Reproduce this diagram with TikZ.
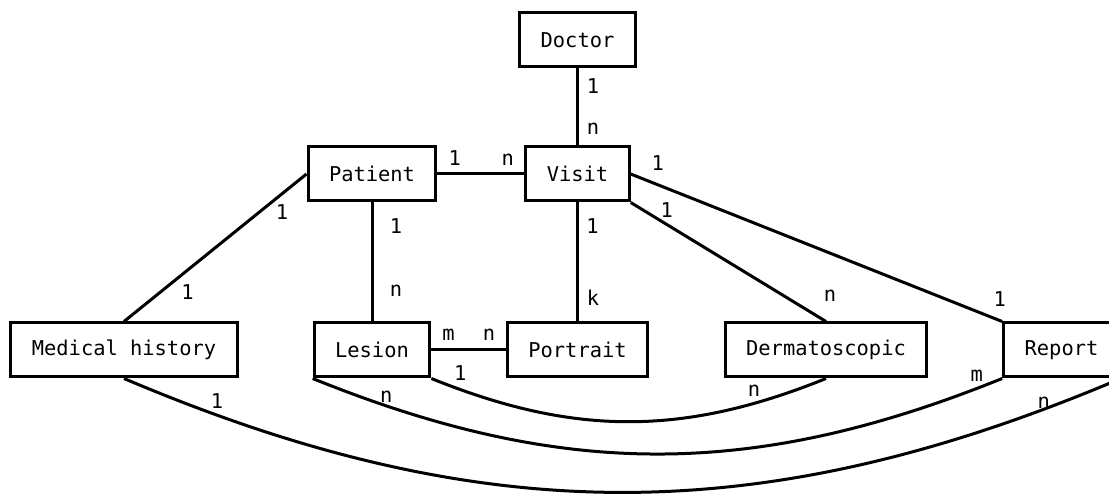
\documentclass[tikz,border=0pt]{standalone}
\usepackage{fontspec}
\newfontfamily\ermono{DejaVu Sans Mono}

\begin{document}
\begin{tikzpicture}[x=0.5pt,y=0.5pt,line width=1.5pt,
        entity/.style={draw,inner xsep=10.5pt,inner ysep=0pt,minimum height=27pt,font=\ermono\fontsize{10.2}{12}\selectfont},
        card/.style={inner sep=0pt,font=\ermono\fontsize{10.2}{12}\selectfont}]
        \useasboundingbox (0,0) rectangle (1109,-496);
        \node[entity] (doctor) at (577.5,-40) {Doctor};
        \node[entity] (patient) at (372,-174) {Patient};
        \node[entity] (visit) at (577.5,-174) {Visit};
        \node[entity] (medhist) at (124,-350) {Medical history};
        \node[entity] (lesion) at (372,-350) {Lesion};
        \node[entity] (portrait) at (577.5,-350) {Portrait};
        \node[entity] (derm) at (826,-350) {Dermatoscopic};
        \node[entity] (report) at (1061.5,-350) {Report};
        \draw (doctor.south) -- node[card,pos=.233,xshift=7.75pt] (dv1) {1} node[card,pos=.786,xshift=7.75pt] (dv2) {n} (visit.north);
        \draw (patient.east) -- node[card,pos=.198,yshift=8pt] (pv1) {1} node[card,pos=.81,yshift=7pt] (pv2) {n} (visit.west);
        \draw (patient.west) -- node[card,pos=.26,xshift=11.5pt] (pm1) {1} node[card,pos=.8,xshift=13.5pt] (pm2) {1} (medhist.north);
        \draw (patient.south) -- node[card,pos=.2,xshift=12pt] (pl1) {1} node[card,pos=.743,xshift=12pt] (pl2) {n} (lesion.north);
        \draw (visit.south) -- node[card,pos=.2,xshift=7.5pt] (vp1) {1} node[card,pos=.804,xshift=7.75pt] (vp2) {k} (portrait.north);
        \draw (visit.south east) -- node[card,pos=.185,yshift=7pt] (vd1) {1} node[card,pos=1,xshift=2pt,yshift=13pt] (vd2) {n} (derm.north);
        \draw (visit.east) -- node[card,pos=.073,yshift=10.75pt] (vr1) {1} node[card,pos=1,xshift=-1.25pt,yshift=11.25pt] (vr2) {1} (report.north west);
        \draw (lesion.east) -- node[card,pos=.232,yshift=7.5pt] (lp1) {m} node[card,pos=.774,yshift=7.5pt] (lp2) {n} (portrait.west);
        \draw (lesion.south east) to[bend right=22] node[card,pos=0,xshift=14.5pt,yshift=2.5pt] (ld1) {1} node[card,pos=1,xshift=-36pt,yshift=-6pt] (ld2) {n} (derm.south);
        \draw (lesion.south west) to[bend right=22] node[card,pos=0,xshift=36.75pt,yshift=-9pt] (lr1) {n} node[card,pos=1,xshift=-12.75pt,yshift=1.5pt] (lr2) {m} (report.south west);
        \draw (medhist.south) to[bend right=23] node[card,pos=0,xshift=46.5pt,yshift=-11.5pt] (mr1) {1} node[card,pos=1,xshift=-38.5pt,yshift=-12pt] (mr2) {n} (report.south east);
    \end{tikzpicture}
\end{document}
